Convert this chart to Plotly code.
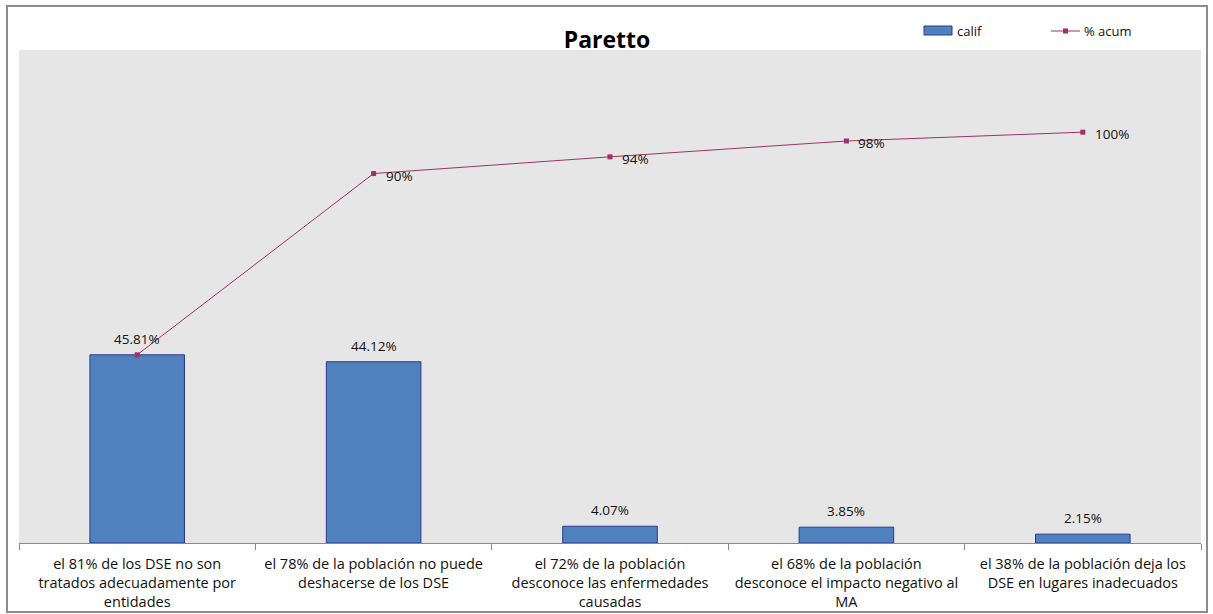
import plotly.graph_objects as go

categories = [
    "el 81% de los DSE no son<br>tratados adecuadamente por<br>entidades",
    "el 78% de la población no puede<br>deshacerse de los DSE",
    "el 72% de la población<br>desconoce las enfermedades<br>causadas",
    "el 68% de la población<br>desconoce el impacto negativo al<br>MA",
    "el 38% de la población deja los<br>DSE en lugares inadecuados",
]
calif = [45.81, 44.12, 4.07, 3.85, 2.15]
acum = [45.81, 89.93, 94.00, 97.85, 100.0]
calif_labels = ["45.81%", "44.12%", "4.07%", "3.85%", "2.15%"]
acum_labels = ["", "90%", "94%", "98%", "100%"]
series_names = ["calif", "% acum"]

FONT = "Open Sans"
BAR_COLOR = "#4F81BD"
BAR_EDGE = "#2B3990"
LINE_COLOR = "#9E3265"

fig = go.Figure()
fig.add_trace(go.Bar(
    x=categories, y=calif, name=series_names[0],
    marker=dict(color=BAR_COLOR, line=dict(color=BAR_EDGE, width=1)),
    width=0.4, showlegend=False,
))
fig.add_trace(go.Scatter(
    x=categories, y=acum, name=series_names[1], mode="lines+markers",
    line=dict(color=LINE_COLOR, width=1),
    marker=dict(symbol="square", size=5, color=LINE_COLOR),
    cliponaxis=False, showlegend=False,
))

L, R, T, B = 19, 12, 50, 71
W, H = 1213, 614
pw, ph = W - L - R, H - T - B

def px(x):
    return (x - L) / pw

def py(y):
    return (H - B - y) / ph

annotations = []
for c, v, t in zip(categories, calif, calif_labels):
    annotations.append(dict(x=c, y=v, xref="x", yref="y", text=t, showarrow=False,
                            xanchor="center", yanchor="bottom", yshift=5,
                            font=dict(size=13.5, family=FONT, color="#111111")))
for c, v, t in zip(categories, acum, acum_labels):
    if t:
        annotations.append(dict(x=c, y=v, xref="x", yref="y", text=t, showarrow=False,
                                xanchor="left", yanchor="middle", xshift=10, yshift=-2,
                                font=dict(size=13.5, family=FONT, color="#111111")))

shapes = [
    dict(type="rect", xref="paper", yref="paper",
         x0=px(7), x1=px(1207), y0=py(612), y1=py(6),
         line=dict(color="#8C8C8C", width=2), fillcolor="rgba(0,0,0,0)", layer="below"),
    # legend swatches
    dict(type="rect", xref="paper", yref="paper",
         x0=px(924), x1=px(952), y0=py(35), y1=py(26),
         line=dict(color=BAR_EDGE, width=1), fillcolor=BAR_COLOR),
    dict(type="line", xref="paper", yref="paper",
         x0=px(1051), x1=px(1080), y0=py(31), y1=py(31),
         line=dict(color=LINE_COLOR, width=1)),
    dict(type="rect", xref="paper", yref="paper",
         x0=px(1063), x1=px(1068), y0=py(33.5), y1=py(28.5),
         line=dict(color=LINE_COLOR, width=0), fillcolor=LINE_COLOR),
]
annotations += [
    dict(text=series_names[0], xref="paper", yref="paper", x=px(955), y=py(31),
         xanchor="left", yanchor="middle", showarrow=False,
         font=dict(size=13, family=FONT, color="#111111")),
    dict(text=series_names[1], xref="paper", yref="paper", x=px(1082), y=py(31),
         xanchor="left", yanchor="middle", showarrow=False,
         font=dict(size=13, family=FONT, color="#111111")),
]

fig.update_layout(
    width=W, height=H,
    margin=dict(l=L, r=R, t=T, b=B, autoexpand=False),
    paper_bgcolor="white",
    plot_bgcolor="#E6E6E6",
    font=dict(family=FONT, color="#111111", size=13),
    title=dict(text="<b>Paretto</b>", x=px(607), xref="paper", xanchor="center",
               y=1 - 40 / H, yanchor="middle", font=dict(size=23, family=FONT, color="#000000")),
    showlegend=False,
    bargap=0.6,
    xaxis=dict(showgrid=False, showline=True, linecolor="#888888", linewidth=1,
               ticks="outside", tickson="boundaries", ticklen=6, tickcolor="#888888",
               tickfont=dict(size=14.5, family=FONT, color="#111111"), tickangle=0,
               ticklabelstandoff=8),
    yaxis=dict(range=[0, 120], visible=False, showgrid=False, zeroline=False),
    shapes=shapes,
    annotations=annotations,
)

fig.write_html("out.html")
